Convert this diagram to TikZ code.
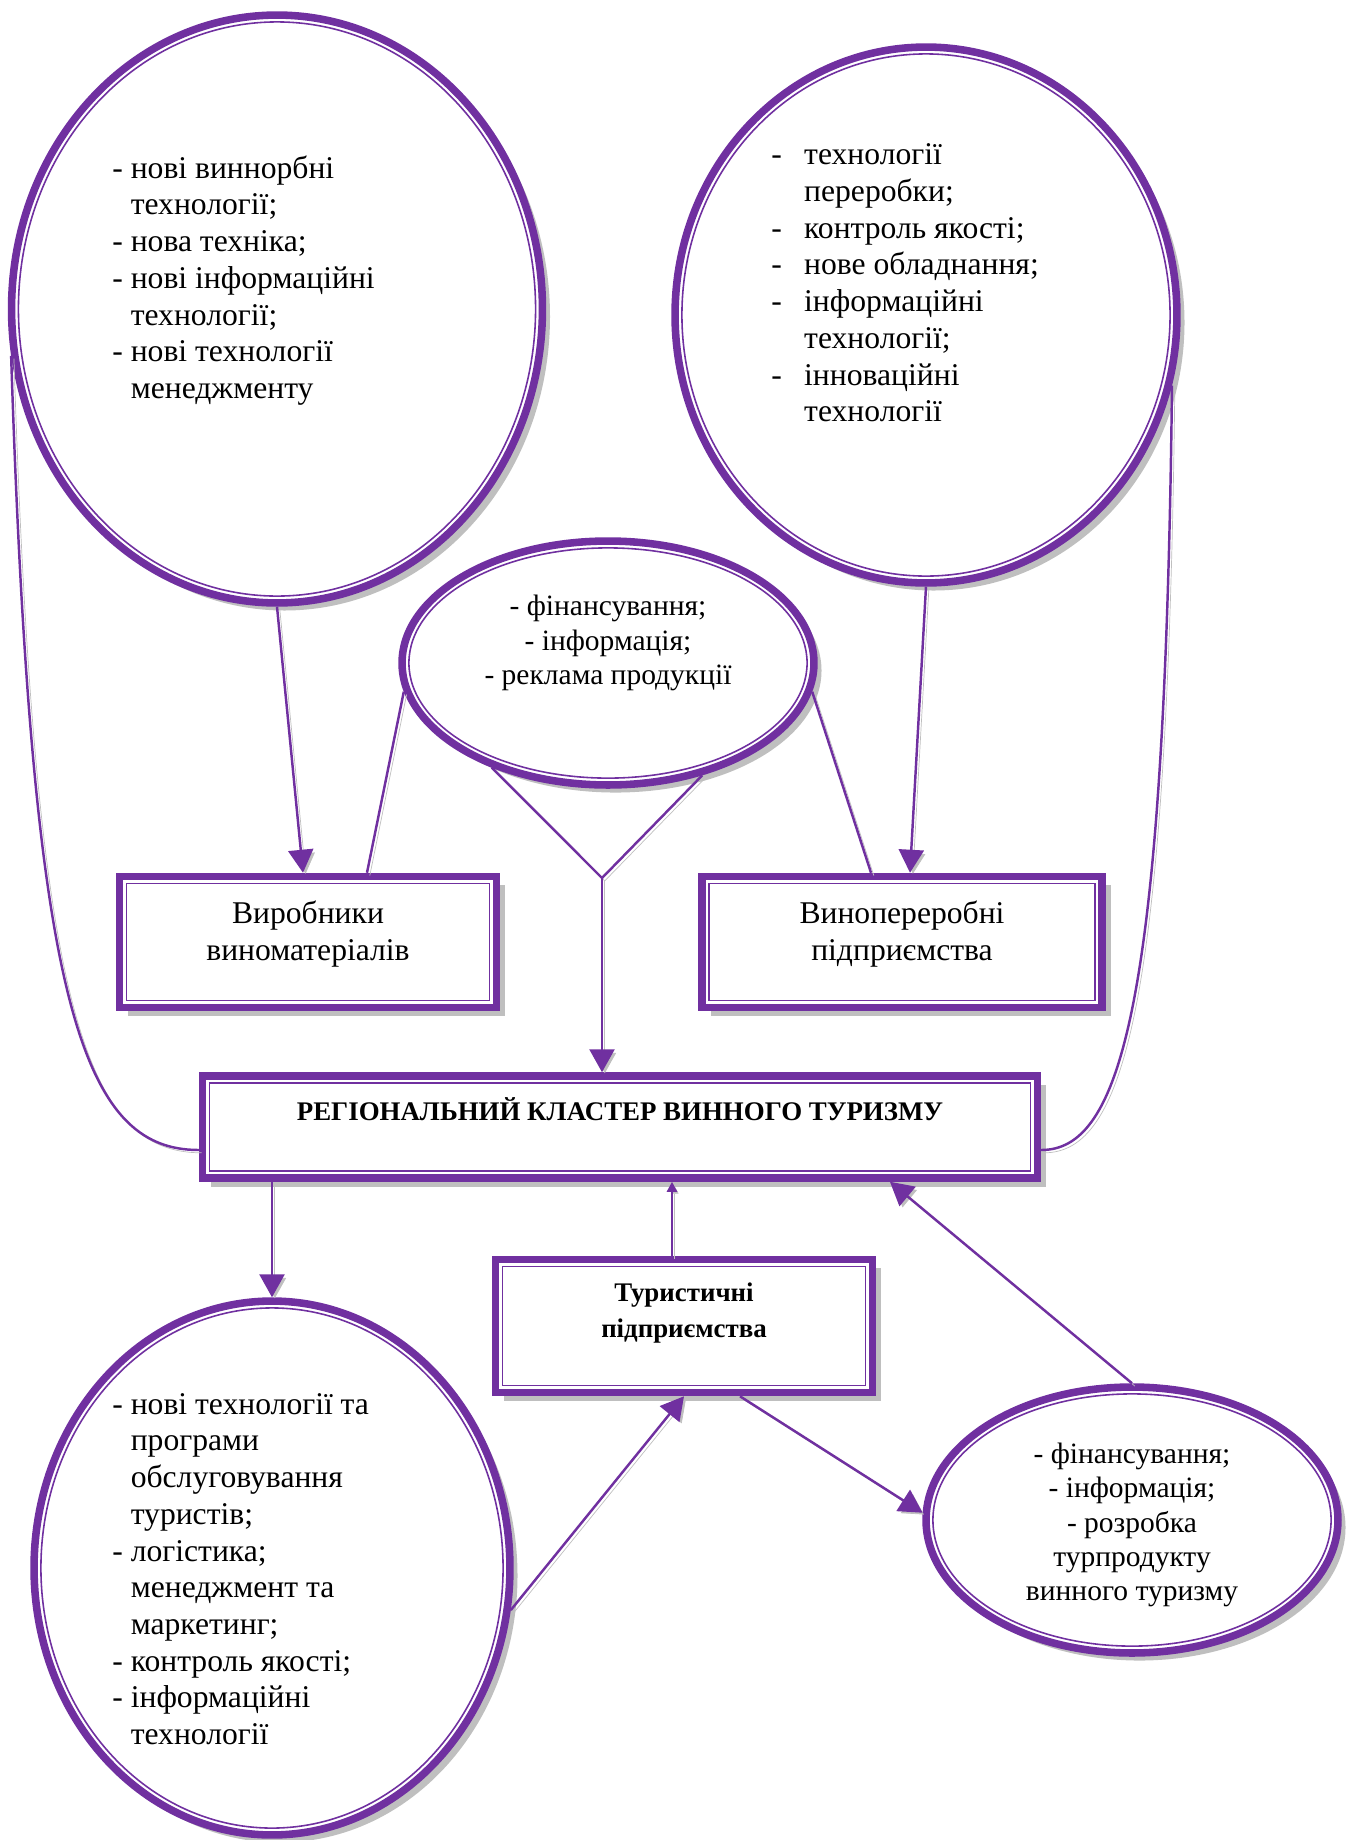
\documentclass[tikz,border=0pt]{standalone}
\usepackage{fontspec}
\setmainfont{Liberation Serif}
\usepackage{tikz}
\usetikzlibrary{positioning,arrows.meta,shapes.geometric,shadows,calc}
\definecolor{vio}{HTML}{7030A0}
\definecolor{shade}{HTML}{BFBFBF}

\begin{document}
\begin{tikzpicture}[x=0.02cm, y=-0.02cm,
  oval/.style={ellipse, draw=vio, line width=4.3pt, fill=white, inner sep=0pt,
    drop shadow={shadow xshift=4.3pt, shadow yshift=-4.3pt, fill=shade, opacity=1}},
  frame/.style={rectangle, draw=vio, line width=4.3pt, fill=white, inner sep=0pt,
    drop shadow={shadow xshift=5pt, shadow yshift=-5pt, fill=shade, opacity=1}},
  rim/.style={draw=vio, line width=0.9pt},
  list/.style={inner sep=0pt, anchor=west, font=\fontsize{18}{20.9}\selectfont},
  note/.style={inner sep=0pt, align=center, font=\fontsize{16.8}{19.4}\selectfont},
  boxtext/.style={inner sep=0pt, align=center, font=\fontsize{18}{21}\selectfont},
  head/.style={inner sep=0pt, align=center, font=\fontsize{15.3}{20}\selectfont\bfseries},
  link/.style={vio, line width=1.4pt, preaction={draw=shade, transform canvas={shift={(1.6pt,-1.6pt)}}}},
  arr/.style={link, -{Triangle[length=0.46cm, width=0.5cm]}}]
\useasboundingbox (0,0) rectangle (1357,1840);

% ellipses
\node[oval, minimum width=10.62cm, minimum height=11.76cm] (tech) at (277,309) {};
\node[oval, minimum width=10.04cm, minimum height=10.72cm] (proc) at (926,315) {};
\node[oval, minimum width=8.24cm, minimum height=4.88cm] (fin) at (608,663) {};
\node[oval, minimum width=9.52cm, minimum height=10.68cm] (serv) at (272,1568) {};
\node[oval, minimum width=8.24cm, minimum height=5.32cm] (prom) at (1132,1520) {};
\foreach \e in {tech,proc,fin,serv,prom}
  \draw[rim] let \p1=($(\e.east)-(\e.west)$), \p2=($(\e.north)-(\e.south)$) in
    (\e.center) ellipse [x radius=0.5*\x1-0.213cm, y radius=0.5*\y2-0.213cm];

% boxes
\node[frame, minimum width=7.54cm, minimum height=2.62cm] (prod) at (308,942) {};
\node[frame, minimum width=8cm, minimum height=2.62cm] (wine) at (902,942) {};
\node[frame, minimum width=16.7cm, minimum height=2.04cm] (clus) at (620,1127) {};
\node[frame, minimum width=7.54cm, minimum height=2.66cm] (tour) at (684,1326) {};
\foreach \b in {prod,wine,clus,tour}
  \draw[rim] ([shift={(0.215cm,-0.215cm)}]\b.north west) rectangle ([shift={(-0.215cm,0.215cm)}]\b.south east);

% texts
\node[list] (tech-t) at (112,281) {\begin{tabular}{@{}l@{\ }l@{}}
  -&нові виннорбні\\&технології;\\-&нова техніка;\\-&нові інформаційні\\&технології;\\-&нові технології\\&менеджменту\end{tabular}};
\node[list] (proc-t) at (771,286) {\begin{tabular}{@{}l@{\hspace{12.7pt}}l@{}}
  -&технології\\&переробки;\\-&контроль якості;\\-&нове обладнання;\\-&інформаційні\\&технології;\\-&інноваційні\\&технології\end{tabular}};
\node[note] (fin-t) at (608,643) {- фінансування;\\- інформація;\\- реклама продукції};
\node[list] (serv-t) at (112,1572) {\begin{tabular}{@{}l@{\ }l@{}}
  -&нові технології та\\&програми\\&обслуговування\\&туристів;\\-&логістика;\\&менеджмент та\\&маркетинг;\\-&контроль якості;\\-&інформаційні\\&технології\end{tabular}};
\node[note] (prom-t) at (1132,1525) {- фінансування;\\- інформація;\\- розробка\\турпродукту\\винного туризму};
\node[boxtext] (prod-t) at (308,934) {Виробники\\виноматеріалів};
\node[boxtext] (wine-t) at (902,934) {Винопереробні\\підприємства};
\node[head] (clus-t) at (620,1109) {РЕГІОНАЛЬНИЙ КЛАСТЕР ВИННОГО ТУРИЗМУ};
\node[head] (tour-t) at (684,1313) {Туристичні\\підприємства};

% connectors
\draw[arr] (tech.south) -- ([xshift=-0.1cm]prod.north);
\draw[arr] (proc.south) -- ([xshift=0.16cm]wine.north);
\draw[link] (fin.188) -- ([xshift=1.18cm]prod.north);
\draw[link] (fin.352) -- ([xshift=-0.62cm]wine.north);
\coordinate (fork) at (602,878);
\draw[link] (fin.222) -- (fork) -- (fin.310);
\draw[arr] (fork) -- (fork |- clus.north);
\draw[link] (tech.190) .. controls (32,1000) and (80,1150) .. ([yshift=-0.46cm]clus.west);
\draw[link] (proc.344) .. controls (1165,1010) and (1120,1150) .. ([yshift=-0.46cm]clus.east);
\draw[arr] (clus.south -| serv.north) -- (serv.north);
\draw[link, -{Triangle[length=0.2cm, width=0.2cm]}] ([xshift=-0.24cm]tour.north) -- ([xshift=-0.24cm]tour.north |- clus.south);
\draw[arr] (serv.350) -- (tour.south);
\draw[arr] ([xshift=1.12cm]tour.south) -- (prom.178);
\draw[arr] (prom.north) -- ([xshift=5.4cm]clus.south);
\end{tikzpicture}
\end{document}
